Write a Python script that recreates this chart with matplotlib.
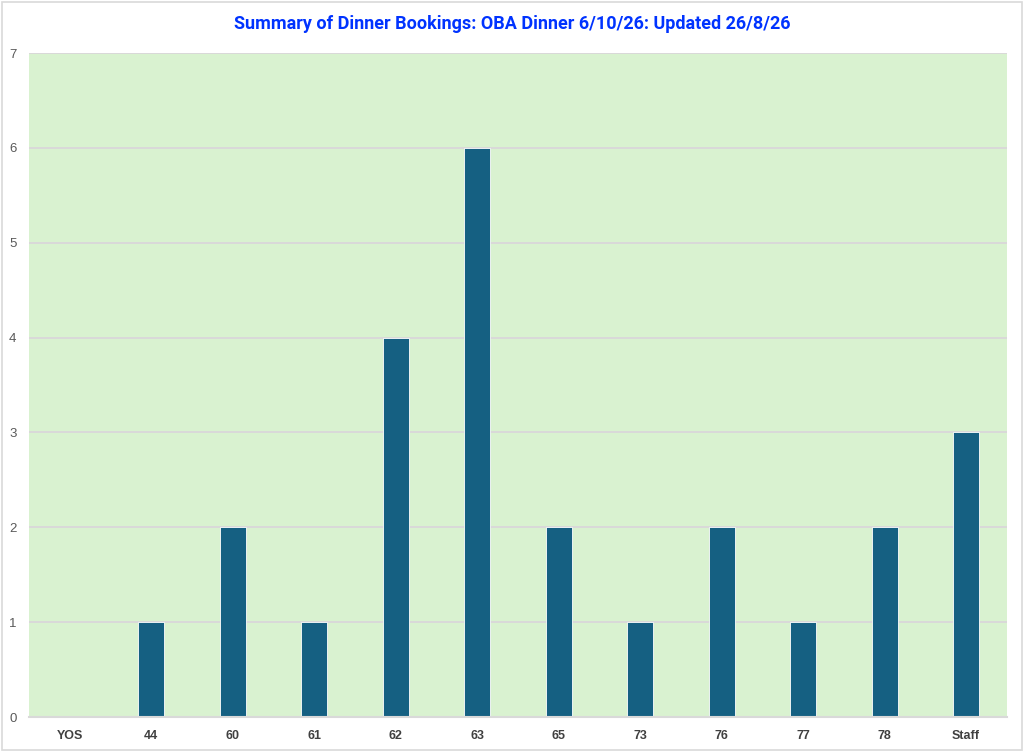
import matplotlib
matplotlib.use("Agg")
import matplotlib.pyplot as plt
from matplotlib.patches import Rectangle

categories = ["YOS", "44", "60", "61", "62", "63", "65", "73", "76", "77", "78", "Staff"]
bookings = [0, 1, 2, 1, 4, 6, 2, 1, 2, 1, 2, 3]
yticks = [0, 1, 2, 3, 4, 5, 6, 7]
title = "Summary of Dinner Bookings: OBA Dinner 6/10/26: Updated 26/8/26"

plt.rcParams['font.family'] = ['Liberation Sans', 'DejaVu Sans']

fig = plt.figure(figsize=(10.24, 7.52), dpi=100)
fig.patch.set_facecolor("white")
fig.patches.append(Rectangle((0.002, 0.003), 0.996, 0.994, transform=fig.transFigure,
                             fill=False, edgecolor="#D9D9D9", linewidth=1.2))

ax = fig.add_axes([0.0283, 0.0465, 0.955, 0.883])
ax.set_facecolor("#D9F2D0")
x = list(range(len(categories)))
ax.bar(x, bookings, width=0.32, color="#156082", edgecolor="white", linewidth=0.6, zorder=3)

ax.set_xlim(-0.5, len(categories) - 0.5)
ax.set_ylim(0, 7)
ax.set_yticks(yticks)
ax.set_yticklabels([str(t) for t in yticks], color="#595959", fontsize=9.5)
ax.set_xticks(x)
ax.set_xticklabels(categories, color="#404040", fontsize=9, fontweight="bold")
ax.tick_params(axis="both", length=0)
ax.tick_params(axis="y", pad=9)
ax.tick_params(axis="x", pad=9)
for yv in yticks:
    ax.axhline(yv, color="#D9D9D9", linewidth=1.4, zorder=1)
for s in ["top", "right", "left"]:
    ax.spines[s].set_visible(False)
ax.spines["bottom"].set_color("#D9D9D9")
ax.spines["bottom"].set_linewidth(1.5)
ax.spines["bottom"].set_zorder(4)

fig.text(0.5, 0.968, title, ha="center", va="center", color="#0033FF",
         fontsize=13, fontweight="bold", family=["Roboto", "DejaVu Sans"])

fig.savefig("out.png", dpi=100, facecolor="white")
